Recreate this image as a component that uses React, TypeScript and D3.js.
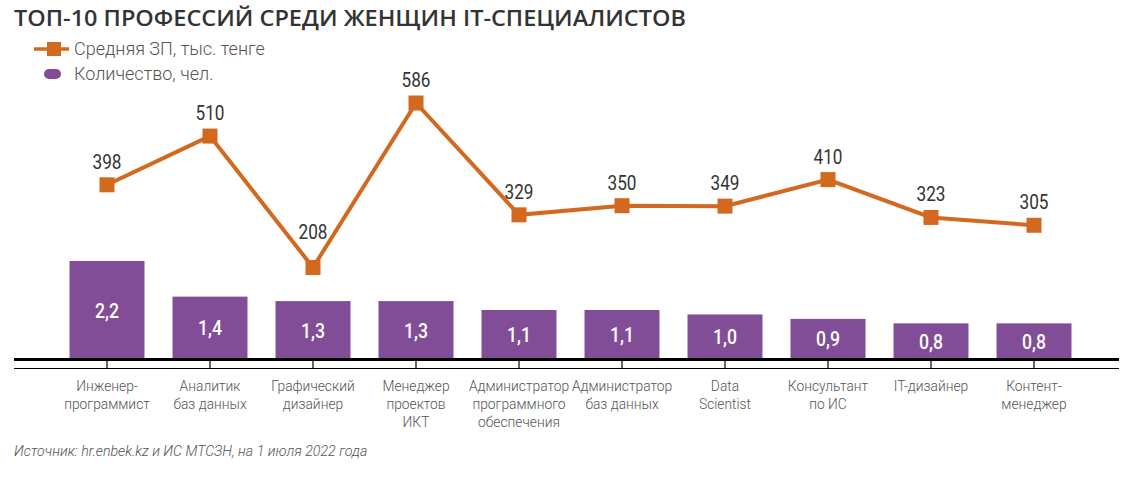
import React from "react";
import * as d3 from "d3";

const categories: string[][] = [
  ["Инженер-", "программист"],
  ["Аналитик", "баз данных"],
  ["Графический", "дизайнер"],
  ["Менеджер", "проектов", "ИКТ"],
  ["Администратор", "программного", "обеспечения"],
  ["Администратор", "баз данных"],
  ["Data", "Scientist"],
  ["Консультант", "по ИС"],
  ["IT-дизайнер"],
  ["Контент-", "менеджер"],
];
const salary: number[] = [398, 510, 208, 586, 329, 350, 349, 410, 323, 305];
const countK: number[] = [2.2, 1.4, 1.3, 1.3, 1.1, 1.1, 1.0, 0.9, 0.8, 0.8];

const title = "ТОП-10 ПРОФЕССИЙ СРЕДИ ЖЕНЩИН IT-СПЕЦИАЛИСТОВ";
const legendSalary = "Средняя ЗП, тыс. тенге";
const legendCount = "Количество, чел.";
const source = "Источник: hr.enbek.kz и ИС МТСЗН, на 1 июля 2022 года";

const ORANGE = "#D2691F";
const PURPLE = "#824D97";
const GREY = "#555555";
const NUM_FONT = "Roboto, sans-serif";

export default function App() {
  const W = 1128, H = 479;
  const keys = categories.map((_, i) => String(i));
  const x = d3.scaleBand<string>().domain(keys).range([55.5, 1085.5]).paddingInner(0.272).paddingOuter(0.136);
  const yBar = d3.scaleLinear().domain([0, 2.2]).range([359, 261]);
  const yLine = d3.scaleLinear().domain([0, 586]).range([358, 103]);
  const cx = (i: number) => (x(String(i)) as number) + x.bandwidth() / 2;
  const line = d3.line<number>().x((_, i) => cx(i)).y((d) => yLine(d));
  const fmt = (v: number) => v.toFixed(1).replace(".", ",");
  const minIdx = d3.minIndex(salary);

  return (
    <svg width={W} height={H} style={{ position: "absolute", left: 0, top: 0, background: "#fff" }}>
      <text x={14} y={26} fontFamily="'Open Sans', sans-serif" fontWeight={600} fontSize={22} fill="#333" textLength={672} lengthAdjust="spacingAndGlyphs">{title}</text>

      {/* legend */}
      <line x1={34} x2={69} y1={49} y2={49} stroke={ORANGE} strokeWidth={3.5} />
      <rect x={47} y={42} width={14} height={14} fill={ORANGE} />
      <text x={74} y={55} fontFamily="Roboto, sans-serif" fontWeight={300} fontSize={18} fill={GREY}>{legendSalary}</text>
      <rect x={44} y={69} width={17} height={10} rx={5} fill={PURPLE} />
      <text x={74} y={80} fontFamily="Roboto, sans-serif" fontWeight={300} fontSize={18} fill={GREY}>{legendCount}</text>

      {/* bars */}
      {countK.map((v, i) => (
        <g key={"b" + i}>
          <rect x={x(String(i))} y={yBar(v)} width={x.bandwidth()} height={yBar(0) - yBar(v)} fill={PURPLE} />
          <text x={cx(i)} y={(yBar(v) + yBar(0)) / 2 + 7.5} textAnchor="middle" fontFamily={NUM_FONT} fontWeight={500} fontSize={21} fill="#fff" textLength={24} lengthAdjust="spacingAndGlyphs">{fmt(v)}</text>
        </g>
      ))}

      {/* axis */}
      <line x1={14} x2={1119} y1={359.5} y2={359.5} stroke="#000" strokeWidth={3} />
      <line x1={14} x2={1119} y1={368.5} y2={368.5} stroke="#000" strokeWidth={1.2} />
      {keys.map((k, i) => (
        <line key={"t" + k} x1={cx(i)} x2={cx(i)} y1={360} y2={368} stroke="#000" strokeWidth={1.2} />
      ))}
      {categories.map((lines, i) => (
        <text key={"c" + i} textAnchor="middle" fontFamily="Roboto, sans-serif" fontWeight={300} fontSize={13.8} fill={GREY}>
          {lines.map((l, j) => (
            <tspan key={j} x={cx(i)} y={390.5 + j * 18.3}>{l}</tspan>
          ))}
        </text>
      ))}

      {/* salary line */}
      <path d={line(salary) || ""} fill="none" stroke={ORANGE} strokeWidth={4} strokeLinejoin="miter" />
      {salary.map((v, i) => (
        <g key={"m" + i}>
          <rect x={cx(i) - 7.5} y={yLine(v) - 7.5} width={15} height={15} fill={ORANGE} />
          <text x={cx(i)} y={yLine(v) - (i === minIdx ? 28.5 : 16)} textAnchor="middle" fontFamily={NUM_FONT} fontWeight={400} fontSize={21} fill="#333" textLength={29} lengthAdjust="spacingAndGlyphs">{v}</text>
        </g>
      ))}

      <text x={14} y={456} fontFamily="Roboto, sans-serif" fontStyle="italic" fontWeight={300} fontSize={14.2} fill={GREY}>{source}</text>
    </svg>
  );
}
